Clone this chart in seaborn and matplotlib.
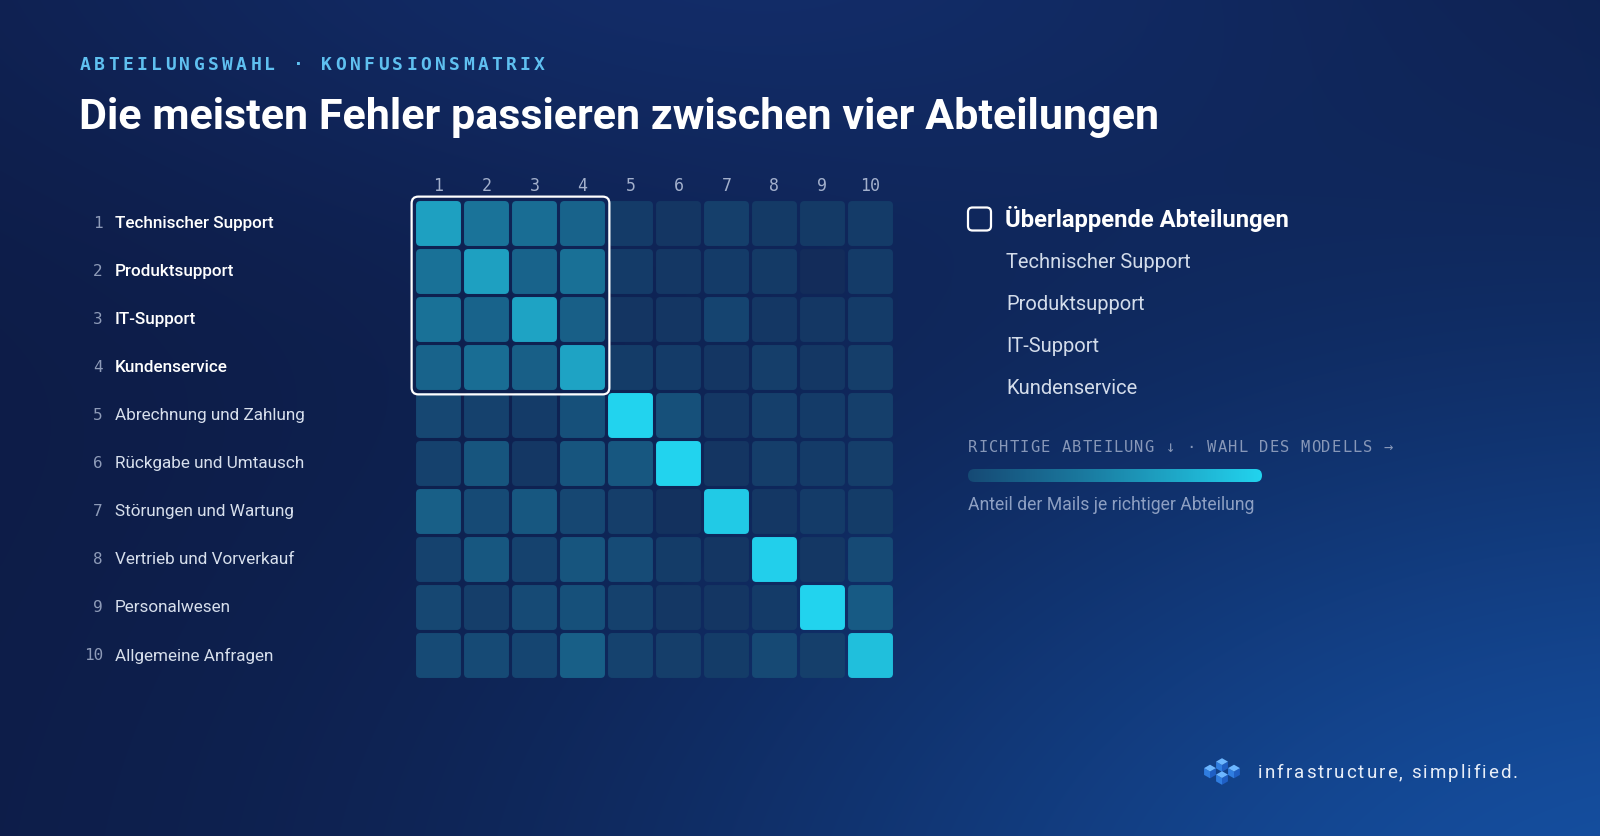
import numpy as np
import pandas as pd
import matplotlib
matplotlib.use("Agg")
import matplotlib.pyplot as plt
import seaborn as sns
import matplotlib.transforms as mtransforms
from matplotlib.colors import LinearSegmentedColormap, PowerNorm, to_rgb
from matplotlib.patches import FancyBboxPatch, Polygon
from matplotlib.font_manager import FontProperties

# ---------------- data ----------------
departments = ["Technischer Support", "Produktsupport", "IT-Support", "Kundenservice",
               "Abrechnung und Zahlung", "Rückgabe und Umtausch", "Störungen und Wartung",
               "Vertrieb und Vorverkauf", "Personalwesen", "Allgemeine Anfragen"]
dept_numbers = ["1", "2", "3", "4", "5", "6", "7", "8", "9", "10"]
overlap_group = ["Technischer Support", "Produktsupport", "IT-Support", "Kundenservice"]

# share of mails (%) per true department (rows) and model choice (columns)
row_01 = [44.1, 18.8, 15.7, 11.6, 0.9, 0.4, 1.4, 0.7, 0.7, 0.9]
row_02 = [18.0, 44.1, 11.6, 17.2, 0.9, 0.5, 0.9, 0.7, 0.0, 0.9]
row_03 = [18.0, 11.6, 46.5, 9.8, 0.3, 0.4, 2.2, 0.5, 0.5, 0.9]
row_04 = [11.6, 15.7, 9.8, 46.5, 1.0, 0.9, 0.4, 1.2, 0.5, 1.2]
row_05 = [2.8, 1.7, 0.9, 4.9, 85.0, 4.9, 0.5, 1.4, 0.9, 1.4]
row_06 = [1.7, 6.2, 0.5, 6.2, 7.1, 85.0, 0.3, 1.2, 0.9, 1.2]
row_07 = [9.8, 3.4, 7.1, 2.8, 1.2, 0.1, 76.7, 0.5, 0.9, 1.0]
row_08 = [1.9, 7.1, 1.9, 6.2, 3.7, 1.0, 0.4, 81.6, 0.5, 3.4]
row_09 = [2.8, 1.2, 3.4, 4.9, 1.7, 0.5, 0.4, 0.9, 85.0, 8.2]
row_10 = [3.4, 3.4, 2.5, 9.8, 1.9, 1.2, 1.0, 3.2, 1.4, 67.3]

title = "Die meisten Fehler passieren zwischen vier Abteilungen"
kicker = "ABTEILUNGSWAHL · KONFUSIONSMATRIX"
legend_title = "Überlappende Abteilungen"
axis_note = "RICHTIGE ABTEILUNG ↓ · WAHL DES MODELLS →"
scale_note = "Anteil der Mails je richtiger Abteilung"
brand = "infrastructure, simplified."

# ---------------- style ----------------
W_PX, H_PX, DPI = 1600, 836, 100
sns.set_theme(style="white")
SANS = ["Roboto", "Open Sans", "DejaVu Sans"]
MONO = ["DejaVu Sans Mono", "DejaVu Sans"]
plt.rcParams["font.family"] = SANS

df = pd.DataFrame([row_01, row_02, row_03, row_04, row_05, row_06, row_07, row_08, row_09, row_10],
                  index=departments, columns=dept_numbers)

cmap = LinearSegmentedColormap.from_list("conf", ["#132c5a", "#1a779d", "#22d3ee"])
norm = PowerNorm(gamma=0.5, vmin=0, vmax=85)

fig = plt.figure(figsize=(W_PX / DPI, H_PX / DPI), dpi=DPI)

# background gradient
ax_bg = fig.add_axes([0, 0, 1, 1], zorder=0)
yy, xx = np.mgrid[0:H_PX:2, 0:W_PX:2]
base = np.array(to_rgb("#0d1b45"))
c_br = np.array(to_rgb("#1550a2"))
c_top = np.array(to_rgb("#16367c"))
g1 = np.exp(-(((xx - 1700) / 1000.0) ** 2 + ((yy - 950) / 600.0) ** 2))
g2 = np.exp(-(((xx - 700) / 750.0) ** 2 + ((yy + 60) / 280.0) ** 2))
img = base + g1[..., None] * (c_br - base) + 0.6 * g2[..., None] * (c_top - base)
ax_bg.imshow(np.clip(img, 0, 1), extent=(0, W_PX, H_PX, 0), aspect="auto", interpolation="bicubic")
ax_bg.set_xlim(0, W_PX)
ax_bg.set_ylim(H_PX, 0)
ax_bg.axis("off")

# heatmap axes (pixel layout)
hx0, hy0, cell = 414.5, 199.5, 48.0
ax = fig.add_axes([hx0 / W_PX, 1 - (hy0 + 10 * cell) / H_PX, 10 * cell / W_PX, 10 * cell / H_PX], zorder=1)
ax.patch.set_alpha(0)
sns.heatmap(df, ax=ax, cmap=cmap, norm=norm, cbar=False, xticklabels=dept_numbers, yticklabels=False)

# replace square mesh by rounded tiles using the mesh's own colours
mesh = ax.collections[0]
vals = np.asarray(mesh.get_array()).reshape(df.shape)
colors = mesh.to_rgba(vals)
mesh.set_visible(False)
gap = 0.032
for r in range(df.shape[0]):
    for c in range(df.shape[1]):
        ax.add_patch(FancyBboxPatch((c + gap, r + gap), 1 - 2 * gap, 1 - 2 * gap,
                                    boxstyle="round,pad=0,rounding_size=0.09",
                                    fc=colors[r, c], ec="none", zorder=2))

ax.xaxis.set_ticks_position("top")
ax.tick_params(axis="x", length=0, pad=3, labelsize=12, labelcolor="#a3b0cc")
for lbl in ax.get_xticklabels():
    lbl.set_fontfamily(MONO)
    lbl.set_rotation(0)
ax.set_xlabel("")
ax.set_ylabel("")
for s in ax.spines.values():
    s.set_visible(False)

# highlight box around overlapping group
n = len(overlap_group)
pad = 0.06
ax.add_patch(FancyBboxPatch((-pad, -pad), n + 2 * pad, n + 2 * pad,
                            boxstyle="round,pad=0,rounding_size=0.14",
                            fc="none", ec="white", lw=1.6, zorder=5, clip_on=False))

# overlay axes for text in pixel coords
ax_t = fig.add_axes([0, 0, 1, 1], zorder=3)
ax_t.set_xlim(0, W_PX)
ax_t.set_ylim(H_PX, 0)
ax_t.axis("off")
ax_t.patch.set_alpha(0)

renderer = fig.canvas.get_renderer()


def text_width(s, fp):
    w, _, _ = renderer.get_text_width_height_descent(s, fp, ismath=False)
    return w


def fit_size(s, family, weight, target_px, base=20.0):
    fp = FontProperties(family=family, size=base, weight=weight)
    return base * target_px / text_width(s, fp)


def tracked(x, y, s, target_px, family, size, color, weight="normal"):
    fp = FontProperties(family=family, size=size, weight=weight)
    space_w = text_width("a a", fp) - text_width("aa", fp)
    widths = [space_w if ch == " " else text_width(ch, fp) for ch in s]
    tracking = (target_px - sum(widths)) / (len(s) - 1)
    cur = x
    for ch, w in zip(s, widths):
        if ch != " ":
            ax_t.text(cur, y, ch, fontproperties=fp, color=color, ha="left", va="center")
        cur += w + tracking


# kicker + title
tracked(80, 65, kicker, 465, MONO, 13, "#5fc0f0", weight="bold")
ax_t.text(79, 117, title, fontsize=fit_size(title, SANS, "bold", 1078), fontweight="bold",
          color="white", ha="left", va="center", family=SANS)

# row labels (y through heatmap data coords)
trans_rows = mtransforms.blended_transform_factory(ax_t.transData, ax.transData)
row_fs = fit_size(departments[0], SANS, "medium", 160)
for i, (num, name) in enumerate(zip(dept_numbers, departments)):
    in_group = name in overlap_group
    ax_t.text(103, i + 0.5, num, transform=trans_rows, ha="right", va="center",
              family=MONO, fontsize=11.5, color="#8e9bb8")
    ax_t.text(115, i + 0.5, name, transform=trans_rows, ha="left", va="center",
              family=SANS, fontsize=row_fs, color="white" if in_group else "#d7dfec",
              fontweight="medium" if in_group else "normal")

# legend block
ax_t.add_patch(FancyBboxPatch((968, 207.5), 23, 23, boxstyle="round,pad=0,rounding_size=4.5",
                              fc="none", ec="white", lw=1.6))
ax_t.text(1005, 219, legend_title, fontsize=fit_size(legend_title, SANS, "bold", 283),
          fontweight="bold", color="white", ha="left", va="center", family=SANS)
item_y = [263, 304, 347, 388]
item_fs = fit_size(overlap_group[0], SANS, "normal", 185)
for yv, name in zip(item_y, overlap_group):
    ax_t.text(1006, yv, name, fontsize=item_fs, color="#d3dcea", ha="left", va="center", family=SANS)

tracked(968, 448, axis_note, 425, MONO, 11.2, "#8797b8")

# gradient scale bar
bar_x0, bar_x1, bar_y0, bar_y1 = 968, 1262, 469, 482
grad = cmap(np.linspace(0.2, 1.0, 256))[None, :, :]
im = ax_t.imshow(grad, extent=(bar_x0, bar_x1, bar_y1, bar_y0), aspect="auto", zorder=4)
clip = FancyBboxPatch((bar_x0, bar_y0), bar_x1 - bar_x0, bar_y1 - bar_y0,
                      boxstyle="round,pad=0,rounding_size=6.5", fc="none", ec="none",
                      transform=ax_t.transData)
ax_t.add_patch(clip)
im.set_clip_path(clip)
ax_t.set_xlim(0, W_PX)
ax_t.set_ylim(H_PX, 0)

ax_t.text(968, 505, scale_note, fontsize=fit_size(scale_note, SANS, "normal", 286),
          color="#8d9fc2", ha="left", va="center", family=SANS)


# brand logo (cubes) + text
def cube(cx, cy, s):
    k = 0.87 * s
    top = [(cx, cy - s), (cx + k, cy - s / 2), (cx, cy), (cx - k, cy - s / 2)]
    left = [(cx - k, cy - s / 2), (cx, cy), (cx, cy + s), (cx - k, cy + s / 2)]
    right = [(cx, cy), (cx + k, cy - s / 2), (cx + k, cy + s / 2), (cx, cy + s)]
    for pts, col in ((left, "#2f7de0"), (right, "#1f5fc4"), (top, "#6cb6ff")):
        ax_t.add_patch(Polygon(pts, closed=True, fc=col, ec="none", zorder=5))


for cx, cy in [(1222, 765), (1210, 771.5), (1234, 771.5), (1222, 778)]:
    cube(cx, cy, 6.8)

tracked(1258, 773, brand, 260, SANS, 13.5, "#e8eef8")

fig.savefig("out.png", dpi=DPI)
